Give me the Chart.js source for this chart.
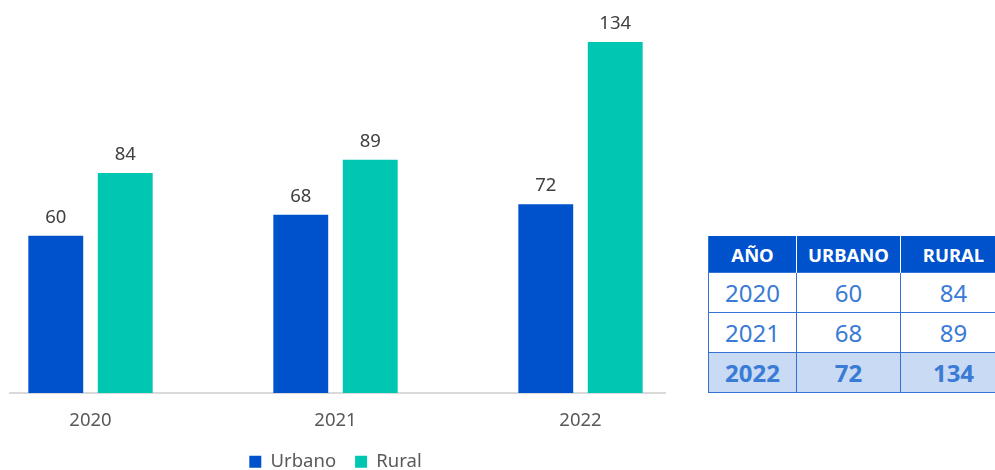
<!DOCTYPE html>
<html>
<head>
<meta charset="utf-8">
<script src="https://cdn.jsdelivr.net/npm/chart.js@4/dist/chart.umd.min.js"></script>
<style>
  html, body { margin: 0; padding: 0; background: #ffffff; width: 995px; height: 470px; overflow: hidden; position: relative; font-family: "Noto Sans", sans-serif; }
  #wrap { position: absolute; left: 9px; top: 0; width: 657px; height: 470px; overflow: hidden; }
  #chart { position: absolute; left: -41px; top: 0; }
  #tblwrap { position: absolute; left: 708px; top: 236px; width: 320px; }
  #tbl { border-collapse: collapse; table-layout: fixed; width: 298px; }
  #tbl th { background: #0052CC; color: #ffffff; font-weight: 700; font-size: 18.5px; height: 36px; padding: 0; text-align: center; border-right: 1px solid #ffffff; border-left: 1px solid #0052CC; }
  #tbl th:first-child { border-left: 1px solid #3373D6; }
  #tbl td { color: #3A7BD5; font-size: 24px; height: 39px; padding: 0; text-align: center; border: 1px solid #3373D6; }
  #tbl tr.last td { background: #C8DAF4; font-weight: 700; }
</style>
</head>
<body>
<div id="wrap"><canvas id="chart" width="735" height="481"></canvas></div>
<div id="tblwrap">
<table id="tbl">
  <colgroup><col style="width:88px"><col style="width:104px"><col style="width:106px"></colgroup>
  <thead><tr id="hdr"></tr></thead>
  <tbody id="body"></tbody>
</table>
</div>
<script>
const categories = ["2020", "2021", "2022"];
const urbano = [60, 68, 72];
const rural = [84, 89, 134];
const seriesNames = ["Urbano", "Rural"];
const tableHeaders = ["AÑO", "URBANO", "RURAL"];

// Build table
const hdr = document.getElementById('hdr');
tableHeaders.forEach(h => { const th = document.createElement('th'); th.textContent = h; hdr.appendChild(th); });
const body = document.getElementById('body');
categories.forEach((c, i) => {
  const tr = document.createElement('tr');
  if (i === categories.length - 1) tr.className = 'last';
  [c, urbano[i], rural[i]].forEach(v => { const td = document.createElement('td'); td.textContent = v; tr.appendChild(td); });
  body.appendChild(tr);
});

const valueLabels = {
  id: 'valueLabels',
  afterDatasetsDraw(chart) {
    const ctx = chart.ctx;
    ctx.save();
    ctx.font = '18.5px "Noto Sans"';
    ctx.fillStyle = '#404040';
    ctx.textAlign = 'center';
    ctx.textBaseline = 'alphabetic';
    chart.data.datasets.forEach((ds, di) => {
      chart.getDatasetMeta(di).data.forEach((el, i) => {
        ctx.fillText(String(ds.data[i]), el.x, el.y - 13);
      });
    });
    ctx.restore();
  }
};

new Chart(document.getElementById('chart'), {
  type: 'bar',
  data: {
    labels: categories,
    datasets: [
      { label: seriesNames[0], data: urbano, backgroundColor: '#0052CC', categoryPercentage: 0.567, barPercentage: 0.79 },
      { label: seriesNames[1], data: rural, backgroundColor: '#00C6B2', categoryPercentage: 0.567, barPercentage: 0.79 }
    ]
  },
  options: {
    responsive: false,
    animation: false,
    devicePixelRatio: 1,
    layout: { padding: 0 },
    scales: {
      x: {
        grid: { display: false, drawTicks: false },
        border: { display: true, color: '#D9D9D9', width: 2 },
        ticks: { color: '#595959', font: { family: 'Noto Sans', size: 18.5 }, padding: 17 },
        afterFit(scale) { scale.height = 40.5; }
      },
      y: { display: false, min: 0, max: 150 }
    },
    plugins: {
      legend: {
        position: 'bottom',
        labels: { color: '#595959', font: { family: 'Noto Sans', size: 18.5 }, boxWidth: 12, boxHeight: 12, padding: 19 }
      },
      tooltip: { enabled: false }
    }
  },
  plugins: [valueLabels]
});
</script>
</body>
</html>
